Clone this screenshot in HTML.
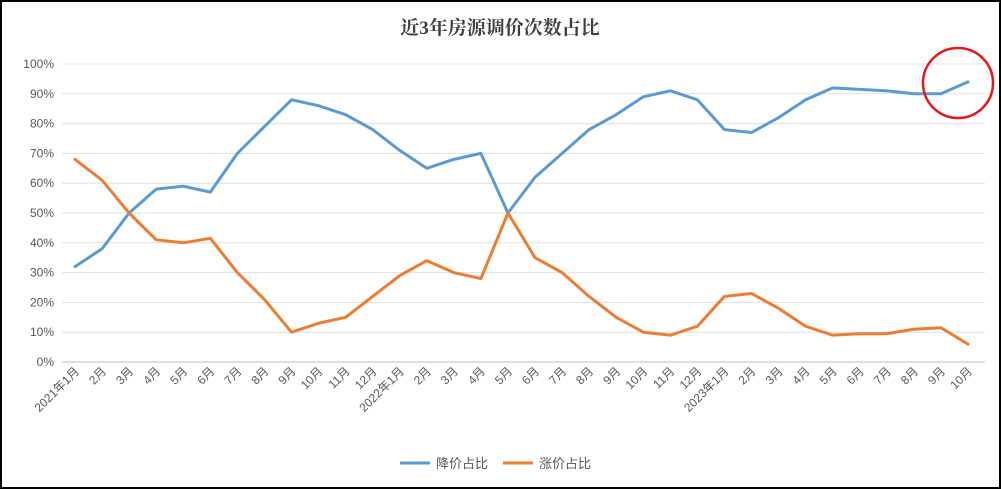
<!DOCTYPE html>
<html><head><meta charset="utf-8"><style>
html,body{margin:0;padding:0;background:#fff;}
svg{display:block;font-family:"Liberation Sans","Noto Sans CJK SC",sans-serif;}
</style></head><body>
<svg id="chart" width="1001" height="489" viewBox="0 0 1001 489" xmlns="http://www.w3.org/2000/svg">
<rect x="1" y="1" width="999" height="487" fill="#fff" stroke="#000" stroke-width="2"/>
<text x="500" y="34" text-anchor="middle" font-size="19" font-weight="bold" fill="#404040" font-family="'Liberation Serif','Noto Serif CJK SC',serif">近3年房源调价次数占比</text>
<g id="grid"></g><g id="xlabels"></g><g id="series"></g>
<circle cx="958" cy="83" r="35" fill="none" stroke="#e8191b" stroke-width="2.5"/>
<g>
<line x1="400" y1="463" x2="430" y2="463" stroke="#5b9bd5" stroke-width="3"/>
<text x="436" y="468" font-size="13" fill="#595959">降价占比</text>
<line x1="503" y1="463" x2="533" y2="463" stroke="#ed7d31" stroke-width="3"/>
<text x="539" y="468" font-size="13" fill="#595959">涨价占比</text>
</g>
</svg>
<script>
const categories=["2021年1月","2月","3月","4月","5月","6月","7月","8月","9月","10月","11月","12月","2022年1月","2月","3月","4月","5月","6月","7月","8月","9月","10月","11月","12月","2023年1月","2月","3月","4月","5月","6月","7月","8月","9月","10月"];
const downValues=[32,38,50,58,59,57,70,79,88,86,83,78,71,65,68,70,50,62,70,78,83,89,91,88,78,77,82,88,92,91.5,91,90,90,94];
const upValues=[68,61,50,41,40,41.5,30,21,10,13,15,22,29,34,30,28,50,35,30,22,15,10,9,12,22,23,18,12,9,9.5,9.5,11,11.5,6];
const yTicks=[0,10,20,30,40,50,60,70,80,90,100];
const NS="http://www.w3.org/2000/svg";
const x0=75,x1=968,yb=362,yt=64,gl=62,gr=985;
const xs=i=>x0+(x1-x0)*i/(categories.length-1);
const ys=v=>yb-(yb-yt)*v/100;
const grid=document.getElementById('grid');
yTicks.forEach(t=>{
  const l=document.createElementNS(NS,'line');
  l.setAttribute('x1',gl);l.setAttribute('x2',gr);l.setAttribute('y1',ys(t));l.setAttribute('y2',ys(t));
  l.setAttribute('stroke',t===0?'#bfbfbf':'#e0e0e0');l.setAttribute('stroke-width','1');
  
  
  grid.appendChild(l);
  const tx=document.createElementNS(NS,'text');
  tx.setAttribute('x',54);tx.setAttribute('y',ys(t)+4);tx.setAttribute('text-anchor','end');
  tx.setAttribute('font-size','12');tx.setAttribute('fill','#595959');tx.textContent=t+'%';
  
  
  grid.appendChild(tx);
});
const xl=document.getElementById('xlabels');
categories.forEach((c,i)=>{
  const x=xs(i)+5,y=372;
  const tx=document.createElementNS(NS,'text');
  tx.setAttribute('x',x);tx.setAttribute('y',y);tx.setAttribute('text-anchor','end');
  tx.setAttribute('font-size','12');tx.setAttribute('fill','#595959');
  tx.setAttribute('transform','rotate(-45 '+x+' '+y+')');tx.textContent=c;
  
  
  xl.appendChild(tx);
});
const sg=document.getElementById('series');
[[downValues,'#5b9bd5','series-down-line'],[upValues,'#ed7d31','series-up-line']].forEach(([vals,col,name])=>{
  const p=document.createElementNS(NS,'polyline');
  p.setAttribute('points',vals.map((v,i)=>xs(i)+','+ys(v)).join(' '));
  p.setAttribute('fill','none');p.setAttribute('stroke',col);p.setAttribute('stroke-width','3');
  p.setAttribute('stroke-linejoin','round');p.setAttribute('stroke-linecap','round');
  
  
  sg.appendChild(p);
});
</script>
</body></html>
